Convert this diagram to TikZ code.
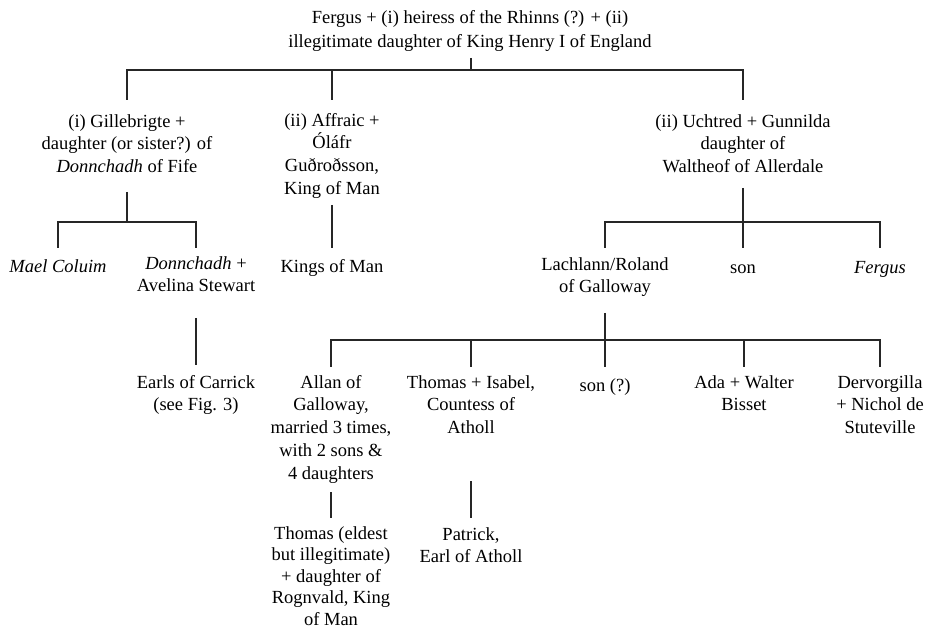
\documentclass[tikz,border=0pt]{standalone}
\usepackage{fontspec}
\setmainfont{Liberation Serif}
\begin{document}
\begin{tikzpicture}[x=1pt,y=1pt,
  pers/.style={align=center,inner sep=0pt,anchor=north,
    font=\fontsize{18.5}{22.7}\selectfont,execute at begin node=\strut},
  link/.style={draw=black!85,line width=1.1pt}]
\useasboundingbox (0,0) rectangle (930,-631);
% nodes
\node[pers,font=\fontsize{18.5}{24.5}\selectfont] (top) at (470,-10) {Fergus + (i) heiress of the Rhinns (?) + (ii)\\illegitimate daughter of King Henry I of England};
\node[pers] (gille) at (127,-114) {(i) Gillebrigte +\\daughter (or sister?) of\\\textit{Donnchadh} of Fife};
\node[pers] (affr) at (332,-113) {(ii) Affraic +\\Óláfr\\Guðroðsson,\\King of Man};
\node[pers] (ucht) at (743,-114) {(ii) Uchtred + Gunnilda\\daughter of\\Waltheof of Allerdale};
\node[pers] (mael) at (58,-256) {\textit{Mael Coluim}};
\node[pers] (donn) at (196,-256) {\textit{Donnchadh} +\\Avelina Stewart};
\node[pers] (kings) at (332,-256) {Kings of Man};
\node[pers] (lach) at (605,-257) {Lachlann/Roland\\of Galloway};
\node[pers] (son) at (743,-257) {son};
\node[pers] (ferg) at (880,-257) {\textit{Fergus}};
\node[pers] (earls) at (196,-375) {Earls of Carrick\\(see Fig. 3)};
\node[pers] (allan) at (331,-375) {Allan of\\Galloway,\\married 3 times,\\with 2 sons \&\\4 daughters};
\node[pers] (thisa) at (471,-375) {Thomas + Isabel,\\Countess of\\Atholl};
\node[pers] (sonq) at (605,-375) {son (?)};
\node[pers] (ada) at (744,-375) {Ada + Walter\\Bisset};
\node[pers] (derv) at (880,-375) {Dervorgilla\\+ Nichol de\\Stuteville};
\node[pers,font=\fontsize{18.5}{21.6}\selectfont] (thomas) at (331,-526) {Thomas (eldest\\but illegitimate)\\+ daughter of\\Rognvald, King\\of Man};
\node[pers] (patr) at (471,-527) {Patrick,\\Earl of Atholl};
% connector start points and bar levels
\coordinate (topS) at (471,-58);
\coordinate (topB) at (471,-70);
\coordinate (gilleS) at (127,-192);
\coordinate (gilleB) at (127,-222);
\coordinate (affrS) at (332,-205);
\coordinate (uchtS) at (743,-188);
\coordinate (uchtB) at (743,-222);
\coordinate (donnS) at (196,-318);
\coordinate (lachS) at (605,-313);
\coordinate (lachB) at (605,-340);
\coordinate (allanS) at (331,-492);
\coordinate (thisaS) at (471,-481);
% connectors
\draw[link] (topS) -- (topB);
\draw[link] (gille.north |- 0,-100) -- (gille.north |- topB) -- (ucht.north |- topB) -- (ucht.north |- 0,-100);
\draw[link] (affr.north |- topB) -- (affr.north |- 0,-100);
\draw[link] (gilleS) -- (gilleB);
\draw[link] (mael.north |- 0,-248) -- (mael.north |- gilleB) -- (donn.north |- gilleB) -- (donn.north |- 0,-248);
\draw[link] (affrS) -- (kings.north |- 0,-248);
\draw[link] (uchtS) -- (son.north |- 0,-248);
\draw[link] (lach.north |- 0,-248) -- (lach.north |- uchtB) -- (ferg.north |- uchtB) -- (ferg.north |- 0,-248);
\draw[link] (donnS) -- (earls.north |- 0,-365);
\draw[link] (lachS) -- (sonq.north |- 0,-367);
\draw[link] (allan.north |- 0,-367) -- (allan.north |- lachB) -- (derv.north |- lachB) -- (derv.north |- 0,-367);
\draw[link] (thisa.north |- lachB) -- (thisa.north |- 0,-367);
\draw[link] (ada.north |- lachB) -- (ada.north |- 0,-367);
\draw[link] (allanS) -- (thomas.north |- 0,-518);
\draw[link] (thisaS) -- (patr.north |- 0,-518);
\end{tikzpicture}
\end{document}
